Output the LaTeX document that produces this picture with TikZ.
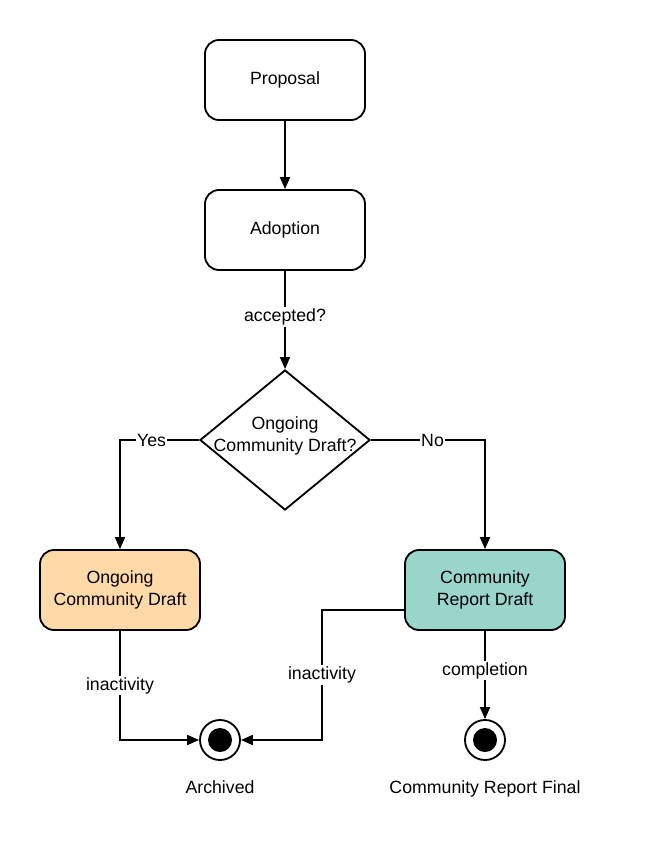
\documentclass[tikz,border=0pt]{standalone}
\usepackage{fontspec}
\setmainfont{Liberation Sans}
\usetikzlibrary{shapes.geometric,arrows.meta}
\definecolor{draftpeach}{RGB}{255,218,168}
\definecolor{reportteal}{RGB}{154,213,202}
\newcommand\diagfont{\fontsize{12.6}{15.6}\selectfont}
\begin{document}
\begin{tikzpicture}[x=0.025cm,y=-0.025cm,line width=1.3pt,font=\diagfont,
		>={Triangle[length=0.3cm,width=0.25cm]},
		state/.style={draw,rounded corners=0.35cm,minimum width=4cm,minimum height=2cm,align=center},
		choice/.style={draw,diamond,minimum width=4.25cm,minimum height=3.5cm,inner sep=0pt},
		final/.style={draw,circle,fill=white,minimum size=1cm,inner sep=0pt,
			path picture={\fill[black] (path picture bounding box.center) circle (0.3cm);}},
		lbl/.style={fill=white,inner sep=1pt}]
		\useasboundingbox (0,0) rectangle (645,860);
		\node[state] (prop) at (285,80) {Proposal};
		\node[state] (adopt) at (285,230) {Adoption};
		\node[choice] (ask) at (285,440) {};
		\node[align=center] (asktxt) at (285,436) {Ongoing\\Community Draft?};
		\node[state,fill=draftpeach] (ocd) at (120,590) {Ongoing\\Community Draft};
		\node[state,fill=reportteal] (crd) at (485,590) {Community\\Report Draft};
		\node[final] (arch) at (220,740) {};
		\node[final] (done) at (485,740) {};
		\node (archtxt) at (220,787) {Archived};
		\node (donetxt) at (485,789) {Community Report Final};
		% transitions
		\draw[->] (prop) -- (adopt);
		\draw[->] (adopt) -- node[lbl,pos=0.47] {accepted?} (ask);
		\draw[->] (ask.west) -- node[lbl,pos=0.6] {Yes} (120,440) -- (ocd);
		\draw[->] (ask.east) -- node[lbl,pos=0.54] {No} (485,440) -- (crd);
		\draw[->] (ocd) -- node[lbl] {inactivity} (120,740) -- (arch);
		\draw[->] ([yshift=-0.5cm]crd.west) -- (322,610) -- node[lbl,pos=0.5] {inactivity} (322,740) -- (arch);
		\draw[->] (crd) -- node[lbl,pos=0.45] {completion} (done);
	\end{tikzpicture}
\end{document}
